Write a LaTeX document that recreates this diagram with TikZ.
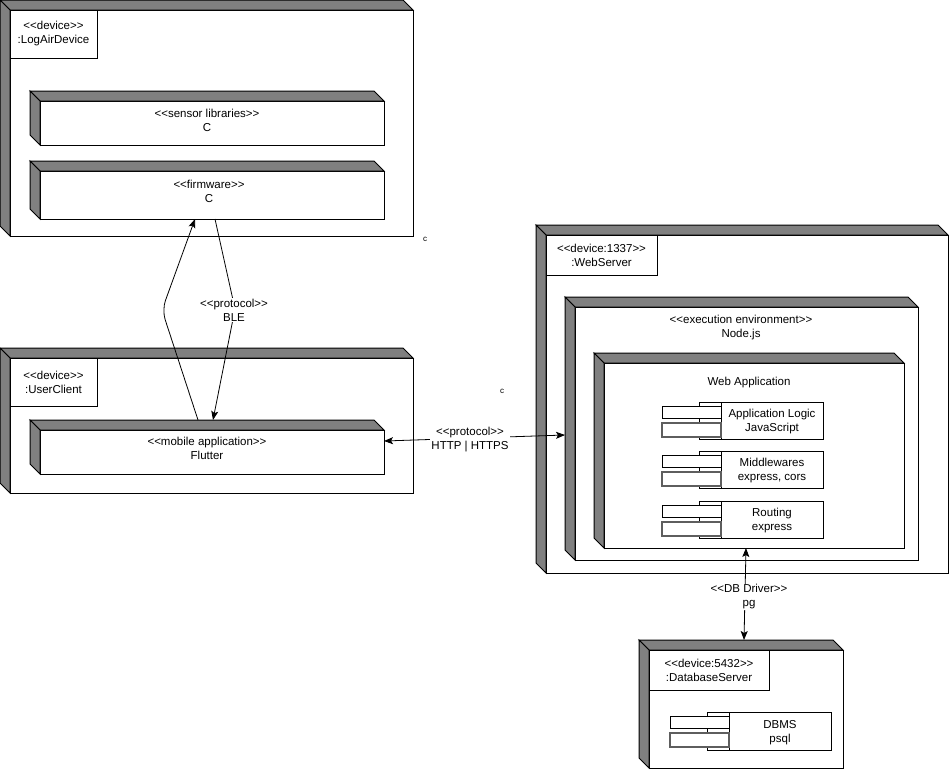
\documentclass[tikz,border=0pt]{standalone}
\usepackage{fontspec}
\setmainfont{Liberation Sans}
\usetikzlibrary{calc,arrows.meta}
\definecolor{sidegrey}{HTML}{808080}
\definecolor{tabgrey}{HTML}{5E5E5E}
\newcommand\st[1]{<{}<#1>{}>}
\tikzset{
  front/.style={draw, fill=white, line width=1pt, anchor=north west, inner sep=0pt, outer sep=0pt},
  side3d/.style={fill=sidegrey, draw=black, line width=1pt, line join=miter},
  lblbox/.style={draw, fill=white, line width=0.8pt, anchor=north west, align=center, inner sep=0pt, outer sep=0pt, font=\fontsize{11.5}{14}\selectfont},
  txt/.style={align=center, inner sep=1pt, font=\fontsize{11.5}{14}\selectfont},
  edgelbl/.style={align=center, inner sep=1pt, fill=white, font=\fontsize{11.5}{14}\selectfont},
  tiny/.style={inner sep=0pt, font=\fontsize{8}{9}\selectfont},
  compbody/.style={draw, fill=white, line width=0.9pt, anchor=north west, inner sep=0pt, outer sep=0pt},
  tabA/.style={draw=black, fill=white, line width=0.9pt, anchor=north west, inner sep=0pt, outer sep=0pt},
  tabB/.style={draw=tabgrey, fill=white, line width=1.2pt, anchor=north west, inner sep=0pt, outer sep=0pt},
  conn/.style={line width=0.8pt, -{Stealth[length=9pt,width=7pt,inset=2pt]}},
  biconn/.style={line width=0.8pt, {Stealth[length=9pt,width=7pt,inset=2pt]}-{Stealth[length=9pt,width=7pt,inset=2pt]}},
}
% 3D node: name, x, y (front north west), w, h (front size)
\newcommand\dnode[5]{%
  \node[front, minimum width=#4pt, minimum height=#5pt] (#1) at (#2,#3) {};
  \filldraw[side3d] (#1.north west) -- ++(-10,-10) -- ($(#1.north east)+(-10,-10)$) -- (#1.north east) -- cycle;
  \filldraw[side3d] (#1.north west) -- ++(-10,-10) -- ($(#1.south west)+(-10,-10)$) -- (#1.south west) -- cycle;
}
% component: name, x, y, w, h, text
\newcommand\comp[6]{%
  \node[compbody, minimum width=#4pt, minimum height=#5pt] (#1) at (#2,#3) {};
  \draw[line width=0.9pt] ($(#1.north west)+(22,0)$) -- ($(#1.south west)+(22,0)$);
  \node[tabA, minimum width=59pt, minimum height=12pt] (#1tabA) at ($(#1.north west)+(-37,4)$) {};
  \node[tabB, minimum width=59pt, minimum height=14pt] (#1tabB) at ($(#1.north west)+(-37,21)$) {};
  \node[txt] (#1text) at ($(#1.center)+(11,1.5)$) {#6};
}
\begin{document}
\begin{tikzpicture}[x=1pt,y=-1pt]
\useasboundingbox (0,0) rectangle (949,769);
\fill[white] (0,0) rectangle (949,769);

% LogAirDevice
\dnode{logair}{10}{10}{403}{226}
\node[lblbox, minimum width=87pt, minimum height=48pt] (logairlbl) at (10,10) {\st{device}\\:LogAirDevice};
\dnode{sensor}{40}{101}{344}{44}
\node[txt] (sensortext) at (207,120.5) {\st{sensor libraries}\\C};
\dnode{firmware}{40}{171}{344}{48}
\node[txt] (firmwaretext) at (209,191.5) {\st{firmware}\\C};

% UserClient
\dnode{userclient}{10}{358}{403}{135}
\node[lblbox, minimum width=87pt, minimum height=48pt] (userclientlbl) at (10,358) {\st{device}\\:UserClient};
\dnode{mobile}{40}{430}{344}{44}
\node[txt] (mobiletext) at (207,448.5) {\st{mobile application}\\Flutter};

% WebServer
\dnode{webserver}{546}{235}{402}{338}
\node[lblbox, minimum width=111pt, minimum height=40pt] (webserverlbl) at (546,235) {\st{device:1337}\\:WebServer};
\dnode{execenv}{575}{307}{343}{253}
\node[txt] (execenvtext) at (741,327.5) {\st{execution environment}\\Node.js};
\dnode{webapp}{604}{363}{300}{185}
\node[txt] (webapptext) at (749,383) {Web Application};
\comp{applogic}{699}{402}{124}{37}{Application Logic\\JavaScript}
\comp{middleware}{699}{451}{124}{37}{Middlewares\\express, cors}
\comp{routing}{699}{501}{124}{37}{Routing\\express}

% DatabaseServer
\dnode{dbserver}{649}{650}{194}{118}
\node[lblbox, minimum width=120pt, minimum height=40pt] (dbserverlbl) at (649,650) {\st{device:5432}\\:DatabaseServer};
\comp{dbms}{707}{712}{124}{38}{DBMS\\psql}

% stray labels
\node[tiny] (c1) at (425,239) {c};
\node[tiny] (c2) at (502,391) {c};

% BLE connectors
\coordinate (bleA) at ($(mobile.north west)+(158,-10)$);
\coordinate (bleBend) at (162,310);
\coordinate (bleB) at ($(firmware.south west)+(155,0)$);
\draw[conn, rounded corners=10pt] (bleA) -- (bleBend) -- (bleB);
\coordinate (bleC) at ($(firmware.south west)+(175,0)$);
\coordinate (bleD) at ($(mobile.north west)+(173,-10)$);
\coordinate (bleMid) at (235,309);
\draw[conn] (bleC) -- (bleMid) -- (bleD);
\node[edgelbl] (blelbl) at (234,310) {\st{protocol}\\BLE};

% HTTP connector
\coordinate (httpA) at ($(mobile.north east)+(0,11)$);
\coordinate (httpB) at ($(execenv.north west)+(-10,128)$);
\draw[biconn] (httpA) -- (httpB);
\node[edgelbl] (httplbl) at (470,440) {\st{protocol}\\HTTP | HTTPS};

% DB connector
\coordinate (dbA) at ($(webapp.south west)+(142,0)$);
\coordinate (dbB) at ($(dbserver.north west)+(95,-10)$);
\draw[biconn] (dbA) -- (dbB);
\node[edgelbl] (dblbl) at (749,597) {\st{DB Driver}\\pg};
\end{tikzpicture}
\end{document}
